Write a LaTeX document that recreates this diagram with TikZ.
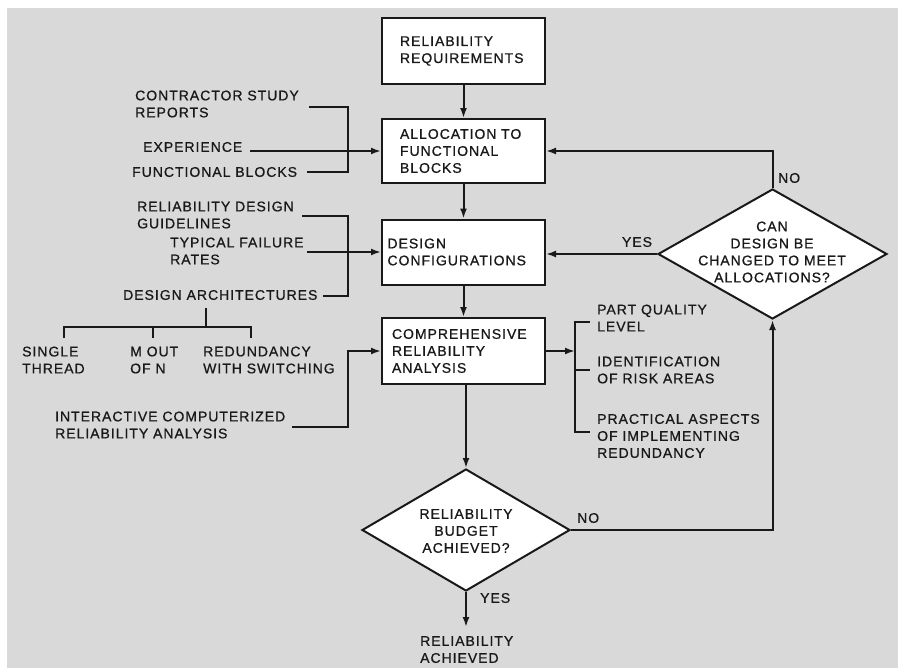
\documentclass[tikz,border=0pt]{standalone}
\usepackage{fontspec}
\setmainfont{Liberation Sans}[LetterSpace=7,FakeBold=0.8]
\usetikzlibrary{arrows.meta,shapes.geometric}
\definecolor{bggray}{RGB}{217,217,217}
\definecolor{ink}{RGB}{25,25,25}
\begin{document}
\begin{tikzpicture}[x=1pt,y=-1pt,
  every node/.style={font=\fontsize{14}{17}\selectfont,text=ink},
  ln/.style={line width=2pt,draw=ink},
  arr/.style={ln,-{Latex[length=10pt,width=7pt]}},
  box/.style={draw=ink,line width=2pt,fill=white,align=left,inner ysep=0pt},
  lbl/.style={align=left,anchor=west,inner sep=0pt},
  dia/.style={draw=ink,diamond,line width=2pt,fill=white,inner sep=0pt},
  dtxt/.style={align=center,inner sep=0pt}]
\useasboundingbox (0,0) rectangle (898,672);
\fill[bggray] (7,8) rectangle (898,668);

% main boxes
\node[box,text width=127pt,inner xsep=18pt,minimum height=66pt] (req) at (463.5,51) {RELIABILITY\\REQUIREMENTS};
\node[box,text width=127pt,inner xsep=18pt,minimum height=64pt] (alloc) at (463.5,151) {ALLOCATION TO\\FUNCTIONAL\\BLOCKS};
\node[box,text width=152pt,inner xsep=5.5pt,minimum height=65pt] (design) at (463.5,252) {DESIGN\\CONFIGURATIONS};
\node[box,text width=143pt,inner xsep=10pt,minimum height=66pt] (comp) at (463.5,351) {COMPREHENSIVE\\RELIABILITY\\ANALYSIS};

% diamonds
\node[dia,minimum width=229pt,minimum height=130pt] (cd) at (772.5,254) {};
\node[dtxt] (cdt) at (772,252) {CAN\\DESIGN BE\\CHANGED TO MEET\\ALLOCATIONS?};
\node[dia,minimum width=208pt,minimum height=122pt] (bud) at (466,530) {};
\node[dtxt] (budt) at (466,531) {RELIABILITY\\BUDGET\\ACHIEVED?};

% left labels
\node[lbl] (cs) at (135,104) {CONTRACTOR STUDY\\REPORTS};
\node[lbl] (exp) at (143,147) {EXPERIENCE};
\node[lbl] (fb) at (132,172) {FUNCTIONAL BLOCKS};
\node[lbl] (rdg) at (137,215) {RELIABILITY DESIGN\\GUIDELINES};
\node[lbl] (tfr) at (170,251) {TYPICAL FAILURE\\RATES};
\node[lbl] (da) at (123,295) {DESIGN ARCHITECTURES};
\node[lbl] (st) at (22,360) {SINGLE\\THREAD};
\node[lbl] (mn) at (130,360) {M OUT\\OF N};
\node[lbl] (rws) at (203,360) {REDUNDANCY\\WITH SWITCHING};
\node[lbl] (icr) at (55,425) {INTERACTIVE COMPUTERIZED\\RELIABILITY ANALYSIS};

% right labels
\node[lbl] (pq) at (597,318) {PART QUALITY\\LEVEL};
\node[lbl] (ira) at (597,370) {IDENTIFICATION\\OF RISK AREAS};
\node[lbl] (pa) at (597,436) {PRACTICAL ASPECTS\\OF IMPLEMENTING\\REDUNDANCY};

% decision labels
\node[lbl] (no1) at (778,178) {NO};
\node (yes1) at (637,242) {YES};
\node[lbl] (no2) at (577,518) {NO};
\node[lbl] (yes2) at (480,598) {YES};
\node[lbl,anchor=north west] (ach) at (420,636) {RELIABILITY\\ACHIEVED};

% coordinates
\coordinate (j1t) at (348,107);
\coordinate (j1b) at (348,172);
\coordinate (j2t) at (348,216);
\coordinate (j2b) at (348,296);
\coordinate (ia) at (292,427);
\coordinate (j3) at (348,427);
\coordinate (t0) at (206,308);
\coordinate (t1) at (206,327);
\coordinate (tl) at (64,327);
\coordinate (tm) at (153,327);
\coordinate (tr) at (251,327);
\coordinate (tlb) at (64,338);
\coordinate (tmb) at (153,338);
\coordinate (trb) at (251,338);
\coordinate (qb) at (575,351);
\coordinate (qt) at (575,322);
\coordinate (qm) at (575,370);
\coordinate (qe) at (575,432);
\coordinate (achtip) at (466,627);

% main flow
\draw[arr] (req) -- (req |- alloc.north);
\draw[arr] (alloc) -- (alloc |- design.north);
\draw[arr] (design) -- (design |- comp.north);
\draw[arr] (comp.south -| bud.north) -- (bud.north);
\draw[arr] (bud.south) -- (achtip);
\draw[arr] (bud.east) -| (cd.south);
\draw[arr] (cd.north) |- (alloc.east);
\draw[arr] (cd.west) -- (cd.west -| design.east);

% left inputs
\draw[ln] ([xshift=10pt]cs.east |- j1t) -- (j1t) -- (j1b) -- ([xshift=10pt]fb.east |- j1b);
\draw[arr] ([xshift=8pt]exp.east |- alloc.west) -- (alloc.west);
\draw[ln] ([xshift=8pt]rdg.east |- j2t) -- (j2t) -- (j2b) -- ([xshift=5pt]da.east |- j2b);
\draw[arr] ([xshift=3pt]tfr.east |- design.west) -- (design.west);
\draw[ln] (t0) -- (t1);
\draw[ln] (tlb) -- (tl) -- (tr) -- (trb);
\draw[ln] (tm) -- (tmb);
\draw[arr] (ia) -- (j3) |- (comp.west);

% right outputs
\draw[arr] (comp.east) -- (qb);
\draw[ln] ([xshift=15pt]qt) -- (qt) -- (qe) -- ([xshift=15pt]qe);
\draw[ln] (qm) -- ([xshift=15pt]qm);
\end{tikzpicture}
\end{document}
